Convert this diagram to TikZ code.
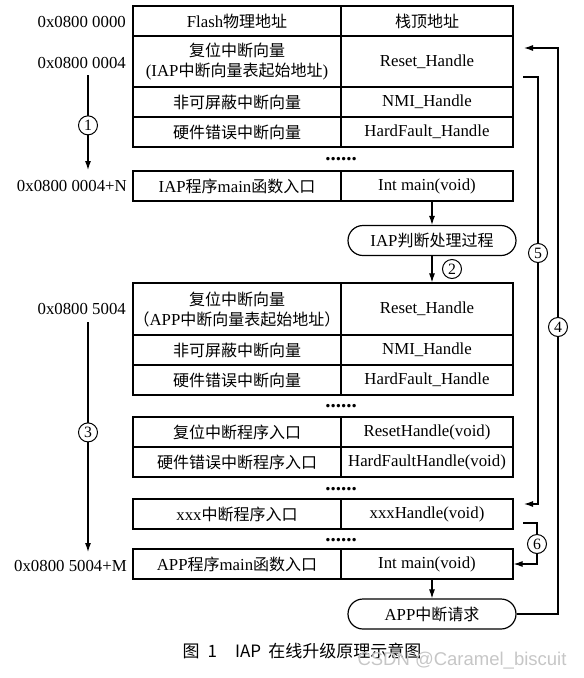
\documentclass[tikz,border=0pt]{standalone}
\usepackage{fontspec}
\setmainfont{Liberation Serif}[Scale=1.05]
\newfontfamily\cjkfont{Noto Sans CJK SC}
\newfontfamily\wmfont{Liberation Sans}
\usetikzlibrary{positioning,shapes.misc,arrows.meta}
\newcommand{\zh}[1]{{\cjkfont #1}}

\tikzset{
  cellL/.style={draw,line width=1.2pt,minimum width=208pt,minimum height=30pt,inner sep=0pt,align=center},
  cellR/.style={cellL,minimum width=172pt},
  proc/.style={draw,rounded rectangle,line width=1.2pt,minimum width=168pt,minimum height=30pt,inner sep=0pt},
  num/.style={draw,circle,fill=white,line width=1pt,minimum size=19pt,inner sep=0pt,font=\fontsize{15}{15}\selectfont},
  addr/.style={anchor=east,inner sep=0pt},
  gap/.style={font=\fontsize{20}{20}\bfseries\selectfont,inner sep=0pt},
  link/.style={line width=1.1pt,-{Latex[length=9pt,width=6pt]}},
}

\begin{document}
\begin{tikzpicture}[x=1pt,y=-1pt,font=\fontsize{16}{20}\selectfont]
  \useasboundingbox (0,0) rectangle (584,678);

  % IAP vector table
  \node[cellL] at(237,21)(flashL){Flash\zh{物理地址}};
  \node[cellR] at(427,21)(flashR){\zh{栈顶地址}};
  \node[cellL,minimum height=51pt] at(237,61.5)(iapresL){\zh{复位中断向量}\\(IAP\zh{中断向量表起始地址})};
  \node[cellR,minimum height=51pt] at(427,61.5)(iapresR){Reset\_Handle};
  \node[cellL] at(237,102)(iapnmiL){\zh{非可屏蔽中断向量}};
  \node[cellR] at(427,102)(iapnmiR){NMI\_Handle};
  \node[cellL] at(237,132)(iaphfL){\zh{硬件错误中断向量}};
  \node[cellR] at(427,132)(iaphfR){HardFault\_Handle};

  \node[gap] at(341,159)(dotsA){......};

  \node[cellL] at(237,186)(iapmainL){IAP\zh{程序}main\zh{函数入口}};
  \node[cellR] at(427,186)(iapmainR){Int main(void)};

  \node[proc] at(432,240.5)(judge){IAP\zh{判断处理过程}};

  % APP vector table
  \node[cellL,minimum height=52pt] at(237,309)(appresL){\zh{复位中断向量}\\\zh{（}APP\zh{中断向量表起始地址）}};
  \node[cellR,minimum height=52pt] at(427,309)(appresR){Reset\_Handle};
  \node[cellL] at(237,350)(appnmiL){\zh{非可屏蔽中断向量}};
  \node[cellR] at(427,350)(appnmiR){NMI\_Handle};
  \node[cellL] at(237,380)(apphfL){\zh{硬件错误中断向量}};
  \node[cellR] at(427,380)(apphfR){HardFault\_Handle};

  \node[gap] at(341,406)(dotsB){......};

  \node[cellL] at(237,432)(rstL){\zh{复位中断程序入口}};
  \node[cellR] at(427,432)(rstR){ResetHandle(void)};
  \node[cellL] at(237,462)(hfL){\zh{硬件错误中断程序入口}};
  \node[cellR] at(427,462)(hfR){HardFaultHandle(void)};

  \node[gap] at(341,489)(dotsC){......};

  \node[cellL] at(237,514)(xxxL){xxx\zh{中断程序入口}};
  \node[cellR] at(427,514)(xxxR){xxxHandle(void)};

  \node[gap] at(341,540)(dotsD){......};

  \node[cellL] at(237,564)(appmainL){APP\zh{程序}main\zh{函数入口}};
  \node[cellR] at(427,564)(appmainR){Int main(void)};

  \node[proc] at(432,614)(appreq){APP\zh{中断请求}};

  % addresses
  \node[addr] at(126,22)(a0){0x0800 0000};
  \node[addr] at(126,63)(a4){0x0800 0004};
  \node[addr] at(127,186)(aN){0x0800 0004+N};
  \node[addr] at(126,309)(b4){0x0800 5004};
  \node[addr] at(127,566)(bM){0x0800 5004+M};

  % flow
  \coordinate (s1) at(88,75);
  \coordinate (e1) at(88,170);
  \draw[link] (s1) -- node[num,pos=.53](n1){1} (e1);
  \coordinate (s3) at(88,322);
  \coordinate (e3) at(88,552);
  \draw[link] (s3) -- node[num,pos=.48](n3){3} (e3);

  \draw[link] (judge.north |- iapmainR.south) -- (judge.north);
  \draw[link] (judge.south) -- (judge.south |- appresR.north);
  \node[num] at(452,269)(n2){2};
  \draw[link] (appreq.north |- appmainR.south) -- (appreq.north);

  \coordinate (c4) at(558,48);
  \coordinate (t4) at(524,48);
  \draw[link] (appreq.east) -| (c4) -- (t4);
  \node[num] at(558,327)(n4){4};

  \coordinate (f5) at(523,77);
  \coordinate (c5) at(538,77);
  \coordinate (t5) at(524,504);
  \draw[link] (f5) -- (c5) |- (t5);
  \node[num] at(538,253)(n5){5};

  \coordinate (f6) at(523,523);
  \coordinate (c6) at(537,523);
  \draw[link] (f6) -- (c6) |- (appmainR.east);
  \node[num] at(537,544)(n6){6};

  \node[font=\cjkfont\fontsize{17}{17}\selectfont] at(302,651)(cap){图\hspace{8pt}1\hspace{18pt}IAP\hspace{7pt}在线升级原理示意图};
  \node[font=\wmfont\fontsize{18.5}{18.5}\selectfont,text=gray!45] at(462,661)(wm){CSDN @Caramel\_biscuit};
\end{tikzpicture}
\end{document}
